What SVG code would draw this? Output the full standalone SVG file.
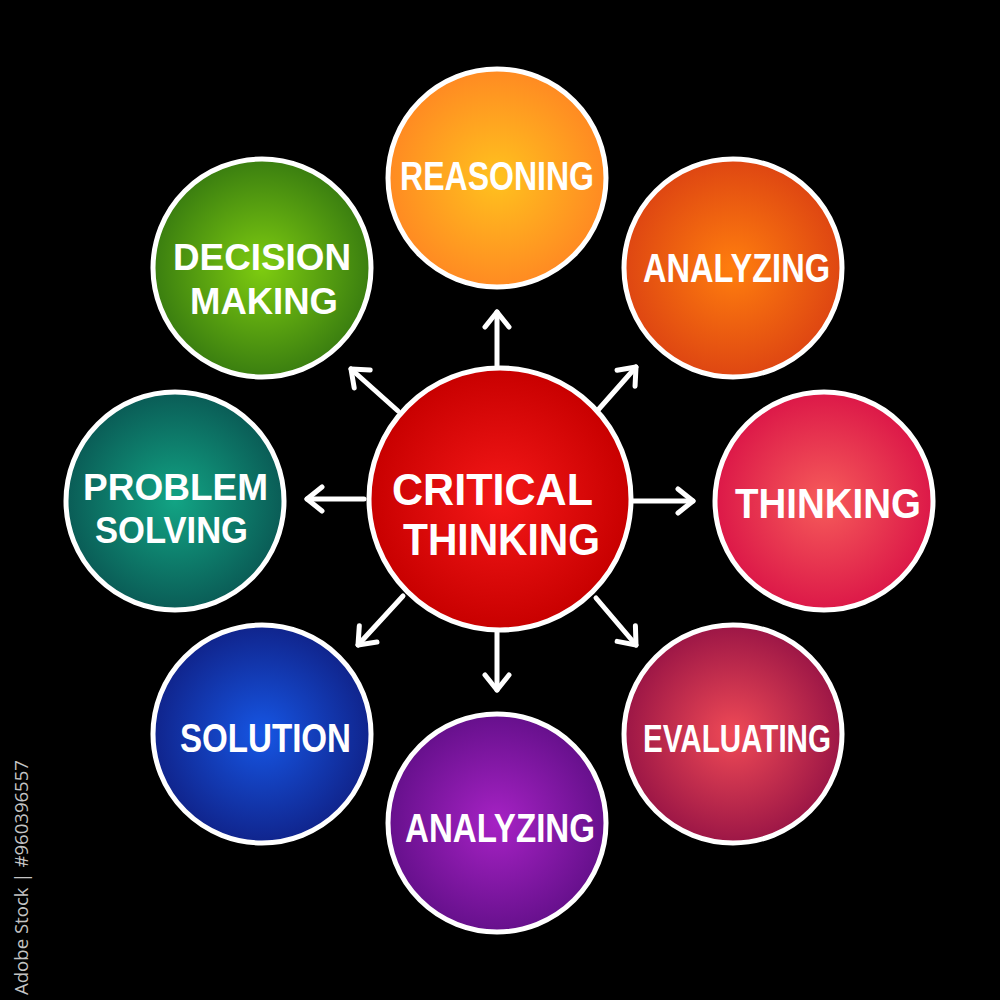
<svg xmlns="http://www.w3.org/2000/svg" width="1000" height="1000" viewBox="0 0 1000 1000">
<defs>
<style>
.node{stroke:#ffffff;stroke-width:5}
.lbl{font-family:"Liberation Sans","Open Sans",sans-serif;font-weight:700;fill:#ffffff;text-anchor:start}
.arr{stroke:#ffffff;stroke-width:5;fill:none;stroke-linecap:round;marker-end:url(#ah)}
.wm{font-family:"Open Sans","Liberation Sans",sans-serif;fill:#c4c4c4;font-size:18px}
</style>
<marker id="ah" viewBox="0 0 20 28" refX="18" refY="14" markerWidth="20" markerHeight="28" markerUnits="userSpaceOnUse" orient="auto" overflow="visible">
<path d="M3,2 L18,14 L3,26" fill="none" stroke="#ffffff" stroke-width="5" stroke-linecap="round" stroke-linejoin="round"/>
</marker>
<radialGradient id="gCenter"><stop offset="0" stop-color="#f41818"/><stop offset="1" stop-color="#c80000"/></radialGradient>
<radialGradient id="gReason"><stop offset="0" stop-color="#ffc21e"/><stop offset="1" stop-color="#ff8a22"/></radialGradient>
<radialGradient id="gAnal1"><stop offset="0" stop-color="#ff7e0e"/><stop offset="1" stop-color="#de4612"/></radialGradient>
<radialGradient id="gThink"><stop offset="0" stop-color="#f65c5a"/><stop offset="1" stop-color="#dc1848"/></radialGradient>
<radialGradient id="gEval"><stop offset="0" stop-color="#f04a56"/><stop offset="1" stop-color="#9c1646"/></radialGradient>
<radialGradient id="gAnal2"><stop offset="0" stop-color="#a622c4"/><stop offset="1" stop-color="#66108c"/></radialGradient>
<radialGradient id="gSol"><stop offset="0" stop-color="#1656e4"/><stop offset="1" stop-color="#10248c"/></radialGradient>
<radialGradient id="gProb"><stop offset="0" stop-color="#12a484"/><stop offset="1" stop-color="#0a5c56"/></radialGradient>
<radialGradient id="gDec"><stop offset="0" stop-color="#7ecc10"/><stop offset="1" stop-color="#3a7e10"/></radialGradient>
</defs>
<rect width="1000" height="1000" fill="#000000"/>

<g id="connectors">
<path class="arr" d="M497,367 L497,312"/>
<path class="arr" d="M598,410 L636,367"/>
<path class="arr" d="M633,501 L693,501"/>
<path class="arr" d="M596,598 L636,645"/>
<path class="arr" d="M497,632 L497,690"/>
<path class="arr" d="M403,596 L358,645"/>
<path class="arr" d="M364,499 L307,499"/>
<path class="arr" d="M398,411 L351,369"/>
</g>

<g id="center">
<circle class="node" cx="500" cy="499" r="131" fill="url(#gCenter)"/>
<text class="lbl" x="392" y="505" font-size="45" textLength="201" lengthAdjust="spacingAndGlyphs">CRITICAL</text>
<text class="lbl" x="403" y="555" font-size="44" textLength="197" lengthAdjust="spacingAndGlyphs">THINKING</text>
</g>

<g id="reasoning">
<circle class="node" cx="497" cy="178" r="109" fill="url(#gReason)"/>
<text class="lbl" x="400" y="190" font-size="41" textLength="194" lengthAdjust="spacingAndGlyphs">REASONING</text>
</g>

<g id="analyzing-top">
<circle class="node" cx="733" cy="268" r="109" fill="url(#gAnal1)"/>
<text class="lbl" x="643" y="282" font-size="40" textLength="187" lengthAdjust="spacingAndGlyphs">ANALYZING</text>
</g>

<g id="thinking">
<circle class="node" cx="824" cy="501" r="109" fill="url(#gThink)"/>
<text class="lbl" x="735" y="518" font-size="42" textLength="186" lengthAdjust="spacingAndGlyphs">THINKING</text>
</g>

<g id="evaluating">
<circle class="node" cx="733" cy="734" r="109" fill="url(#gEval)"/>
<text class="lbl" x="643" y="752" font-size="38" textLength="188" lengthAdjust="spacingAndGlyphs">EVALUATING</text>
</g>

<g id="analyzing-bottom">
<circle class="node" cx="497" cy="823" r="109" fill="url(#gAnal2)"/>
<text class="lbl" x="405" y="842" font-size="40" textLength="190" lengthAdjust="spacingAndGlyphs">ANALYZING</text>
</g>

<g id="solution">
<circle class="node" cx="262" cy="734" r="109" fill="url(#gSol)"/>
<text class="lbl" x="180" y="752" font-size="41" textLength="171" lengthAdjust="spacingAndGlyphs">SOLUTION</text>
</g>

<g id="problem-solving">
<circle class="node" cx="175" cy="501" r="109" fill="url(#gProb)"/>
<text class="lbl" x="83" y="500" font-size="37" textLength="185" lengthAdjust="spacingAndGlyphs">PROBLEM</text>
<text class="lbl" x="95" y="543" font-size="37" textLength="153" lengthAdjust="spacingAndGlyphs">SOLVING</text>
</g>

<g id="decision-making">
<circle class="node" cx="262" cy="268" r="109" fill="url(#gDec)"/>
<text class="lbl" x="173" y="270" font-size="37" textLength="178" lengthAdjust="spacingAndGlyphs">DECISION</text>
<text class="lbl" x="190" y="314" font-size="37" textLength="148" lengthAdjust="spacingAndGlyphs">MAKING</text>
</g>

<text class="wm" transform="translate(28,995) rotate(-90)" textLength="235" lengthAdjust="spacingAndGlyphs">Adobe Stock | #960396557</text>
</svg>
